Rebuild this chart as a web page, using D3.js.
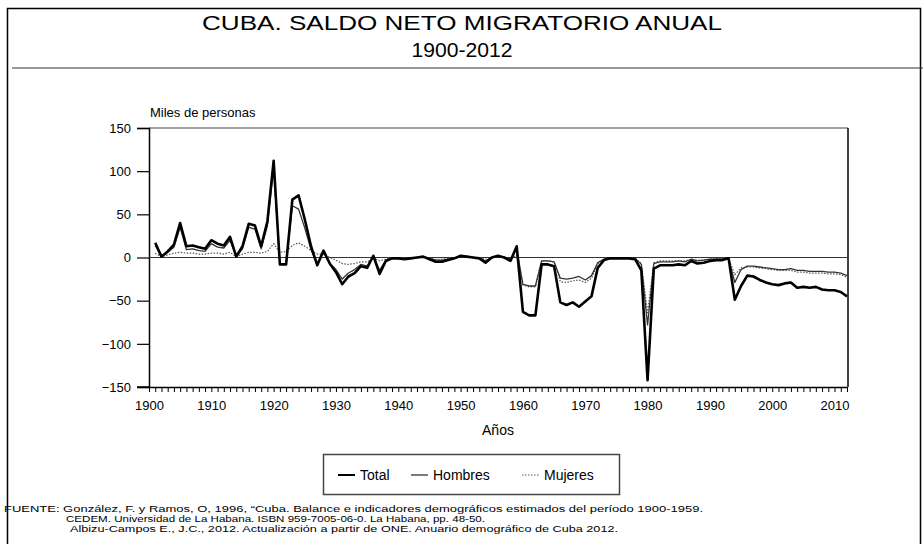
<!DOCTYPE html>
<html lang="es">
<head>
    <meta charset="UTF-8">
    <title>Cuba saldo neto migratorio</title>
    <script src="https://cdn.jsdelivr.net/npm/d3@7"></script>
    <style>
        body { margin: 0; background: #fff; }
        text { font-family: "Liberation Sans", Arial, sans-serif; fill: #000; }
    </style>
</head>
<body>
<div id="chart"></div>
<script>
    // first year of the series, one value per year after that
    var firstYear = 1901;

    // miles de personas, 1901-2012
    var total = [
        17, 1, 7, 15, 40, 13, 14, 12, 10, 20,
        16, 14, 24, 1, 13, 39, 37, 13, 42, 112,
        -8, -8, 67, 72, 44, 13, -9, 8, -7, -17,
        -31, -22, -18, -10, -12, 2, -19, -4, -1, -1,
        -2, -1, 0, 1, -2, -5, -5, -3, -1, 2,
        1, 0, -1, -6, 0, 2, 0, -4, 13, -63,
        -67, -67, -8, -8, -10, -52, -55, -52, -57, -51,
        -45, -12, -3, -1, -1, -1, -1, -2, -15, -142,
        -13, -9, -9, -9, -8, -9, -4, -7, -6, -4,
        -3, -3, -1, -49, -33, -21, -22, -26, -29, -31,
        -32, -30, -29, -35, -34, -35, -34, -37, -38, -38,
        -40, -45
    ];
    var hombres = [
        14, 1, 6, 12, 35, 9, 10, 8, 7, 16,
        12, 11, 20, 1, 10, 35, 33, 10, 37, 104,
        -8, -8, 60, 56, 34, 9, -8, 6, -7, -14,
        -25, -18, -14, -8, -10, 2, -15, -3, -1, -1,
        -1, -1, 0, 1, -1, -3, -3, -2, -1, 1,
        1, 0, -1, -4, 0, 1, 0, -2, 10, -31,
        -33, -33, -4, -4, -5, -24, -25, -24, -22, -26,
        -21, -6, -2, -1, -1, -1, -1, -1, -8, -78,
        -7, -5, -5, -5, -4, -5, -2, -4, -3, -2,
        -2, -2, -1, -29, -14, -10, -10, -11, -12, -13,
        -14, -14, -13, -15, -15, -16, -16, -16, -17, -17,
        -18, -21
    ];
    var mujeres = [
        5, 1, 3, 5, 6, 5, 5, 4, 4, 5,
        5, 4, 6, 1, 4, 6, 6, 5, 7, 16,
        6, 7, 14, 17, 13, 8, 4, 4, 0, -3,
        -7, -8, -7, -5, -5, -1, -4, -2, 0, 0,
        -1, 0, 0, 0, -1, -2, -2, -1, 0, 1,
        0, 0, 0, -2, 0, 1, 0, -2, 3, -32,
        -34, -34, -4, -4, -5, -28, -29, -27, -26, -29,
        -24, -7, -2, -1, -1, -1, -1, -1, -7, -64,
        -6, -4, -4, -4, -4, -4, -2, -3, -3, -2,
        -1, -1, -1, -20, -12, -11, -11, -12, -13, -14,
        -15, -15, -15, -17, -17, -18, -18, -18, -19, -19,
        -20, -23
    ];

    var yTicks = [150, 100, 50, 0, -50, -100, -150];
    var xLabels = [1900, 1910, 1920, 1930, 1940, 1950, 1960, 1970, 1980, 1990, 2000, 2010];
    var legendNames = ["Total", "Hombres", "Mujeres"];

    var fuente = [
        "FUENTE: González, F. y Ramos, O, 1996, “Cuba. Balance e indicadores demográficos estimados del período 1900-1959.",
        "CEDEM. Universidad de La Habana. ISBN 959-7005-06-0. La Habana, pp. 48-50.",
        "Albizu-Campos E., J.C., 2012. Actualización a partir de ONE. Anuario demográfico de Cuba 2012."
    ];

    var W = 923, H = 544;
    var svg = d3.select("#chart").append("svg")
        .attr("width", W)
        .attr("height", H);

    // outer frame and title
    svg.append("rect")
        .attr("x", 7.5).attr("y", 8.5)
        .attr("width", 913).attr("height", 545)
        .attr("fill", "none").attr("stroke", "#000").attr("stroke-width", 1.5);

    svg.append("text")
        .attr("x", 462).attr("y", 30)
        .attr("text-anchor", "middle")
        .attr("font-size", 20)
        .attr("textLength", 520).attr("lengthAdjust", "spacingAndGlyphs")
        .text("CUBA. SALDO NETO MIGRATORIO ANUAL");
    svg.append("text")
        .attr("x", 462).attr("y", 57)
        .attr("text-anchor", "middle")
        .attr("font-size", 20)
        .attr("textLength", 101).attr("lengthAdjust", "spacingAndGlyphs")
        .text("1900-2012");
    svg.append("line")
        .attr("x1", 12).attr("x2", W)
        .attr("y1", 68).attr("y2", 68)
        .attr("stroke", "#333").attr("stroke-width", 1.2);

    // scales
    var x = d3.scaleLinear().domain([1900, 2012]).range([149, 847]);
    var y = d3.scaleLinear().domain([-150, 150]).range([387, 128]);

    var g = svg.append("g");

    svg.append("text")
        .attr("x", 150).attr("y", 117)
        .attr("font-size", 13)
        .text("Miles de personas");

    // plot box: top + right border
    g.append("line")
        .attr("x1", x(1900)).attr("x2", 848)
        .attr("y1", y(150)).attr("y2", y(150))
        .attr("stroke", "#444").attr("stroke-width", 1.2);
    g.append("line")
        .attr("x1", 848).attr("x2", 848)
        .attr("y1", y(150)).attr("y2", y(-150))
        .attr("stroke", "#000").attr("stroke-width", 1.5);

    // y axis
    var yAxis = d3.axisLeft(y).tickValues(yTicks).tickSize(12).tickPadding(6);
    var ya = g.append("g")
        .attr("transform", "translate(" + x(1900) + ",0)")
        .call(yAxis);
    ya.select(".domain").attr("stroke-width", 1.5);
    ya.selectAll(".tick line").attr("stroke-width", 1.2);
    ya.selectAll("text").attr("font-size", 13)
        .attr("font-family", "Liberation Sans, Arial, sans-serif");

    // x axis: one small tick per year, labels every ten years
    var years = d3.range(1900, 2013);
    var xAxis = d3.axisBottom(x).tickValues(years).tickSize(5).tickSizeOuter(0)
        .tickFormat(function (d) { return xLabels.indexOf(d) >= 0 ? d : ""; })
        .tickPadding(9);
    var xa = g.append("g")
        .attr("transform", "translate(0," + y(-150) + ")")
        .call(xAxis);
    xa.select(".domain").attr("stroke-width", 1.5);
    xa.selectAll(".tick line").attr("stroke-width", 1);
    xa.selectAll("text").attr("font-size", 13)
        .attr("font-family", "Liberation Sans, Arial, sans-serif");
    // bottom line continues left of the axis, like the -150 tick
    g.append("line")
        .attr("x1", 137).attr("x2", x(1900))
        .attr("y1", y(-150)).attr("y2", y(-150))
        .attr("stroke", "#000").attr("stroke-width", 1.5);

    svg.append("text")
        .attr("x", (x(1900) + x(2012)) / 2).attr("y", 435)
        .attr("text-anchor", "middle")
        .attr("font-size", 14)
        .text("Años");

    // zero line
    g.append("line")
        .attr("x1", x(1900)).attr("x2", 848)
        .attr("y1", y(0)).attr("y2", y(0))
        .attr("stroke", "#333").attr("stroke-width", 1.2);

    var line = d3.line()
        .x(function (d, i) { return x(firstYear + i); })
        .y(function (d) { return y(d); });

    var styles = {
        "Mujeres": { data: mujeres, color: "#555", width: 1.2, dash: "1.5,1.5" },
        "Hombres": { data: hombres, color: "#333", width: 1.3, dash: null },
        "Total": { data: total, color: "#000", width: 2.6, dash: null }
    };

    ["Mujeres", "Hombres", "Total"].forEach(function (k) {
        var s = styles[k];
        g.append("path")
            .attr("d", line(s.data))
            .attr("fill", "none")
            .attr("stroke", s.color)
            .attr("stroke-width", s.width)
            .attr("stroke-linejoin", "round")
            .attr("stroke-dasharray", s.dash);
    });

    // legend
    var lg = svg.append("g");
    lg.append("rect")
        .attr("x", 323.5).attr("y", 454.5)
        .attr("width", 296).attr("height", 40)
        .attr("fill", "#fff").attr("stroke", "#444").attr("stroke-width", 1.5);
    var legendX = [338, 411, 522];
    legendNames.forEach(function (n, i) {
        var s = styles[n];
        lg.append("line")
            .attr("x1", legendX[i]).attr("x2", legendX[i] + 17)
            .attr("y1", 475).attr("y2", 475)
            .attr("stroke", s.color)
            .attr("stroke-width", n === "Total" ? 2 : (n === "Hombres" ? 1.3 : 1))
            .attr("stroke-dasharray", s.dash);
        lg.append("text")
            .attr("x", legendX[i] + 22).attr("y", 480)
            .attr("font-size", 14)
            .text(n);
    });

    // source note (the original is set wide)
    var fx = [4, 66, 70], fy = [512, 522, 532], fw = [699, 419, 548];
    fuente.forEach(function (t, i) {
        svg.append("text")
            .attr("x", fx[i]).attr("y", fy[i])
            .attr("font-size", 9.2)
            .attr("textLength", fw[i]).attr("lengthAdjust", "spacingAndGlyphs")
            .text(t);
    });
</script>
</body>
</html>
